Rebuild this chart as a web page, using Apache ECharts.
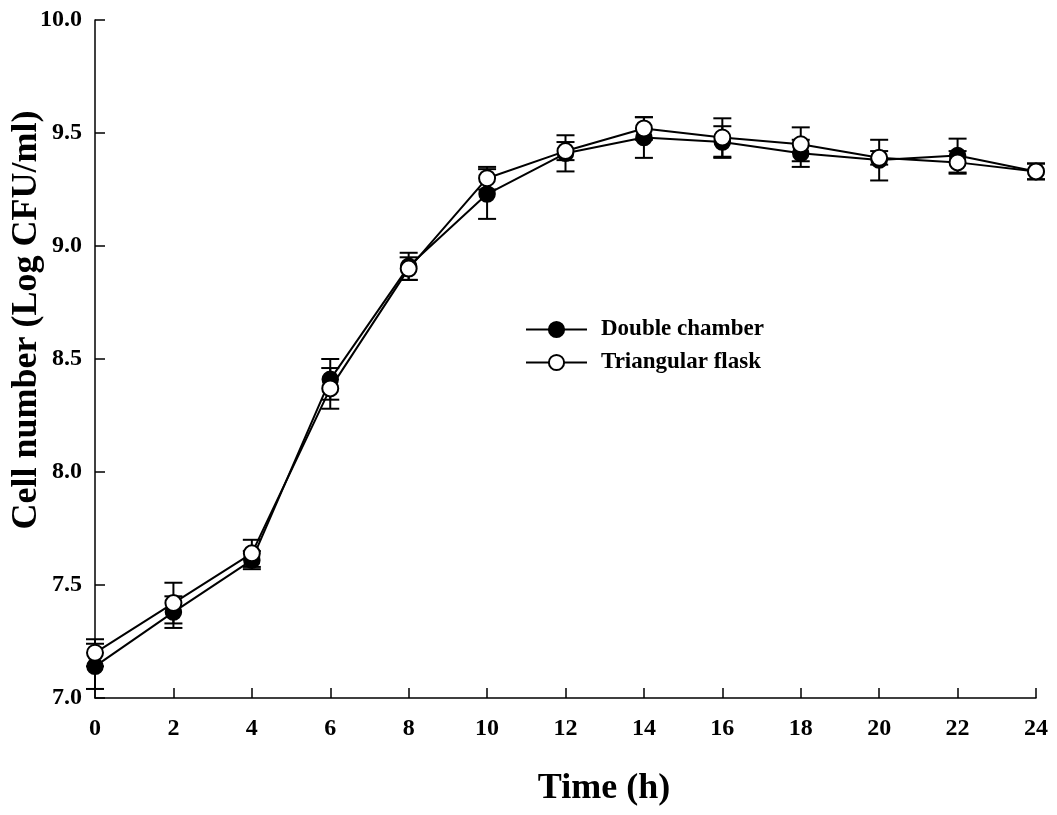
<!DOCTYPE html>
<html>
<head>
<meta charset="utf-8">
<script src="https://cdn.jsdelivr.net/npm/echarts@6/dist/echarts.min.js"></script>
<style>
html,body{margin:0;padding:0;background:#fff;}
#chart{width:1057px;height:815px;}
</style>
</head>
<body>
<div id="chart"></div>
<script>
// ---- data ----
const timeH = [0, 2, 4, 6, 8, 10, 12, 14, 16, 18, 20, 22, 24];
const doubleChamber    = [7.14, 7.38, 7.61, 8.41, 8.91, 9.23, 9.41, 9.48, 9.46, 9.41, 9.38, 9.40, 9.33];
const doubleChamberErr = [0.10, 0.07, 0.04, 0.09, 0.06, 0.11, 0.08, 0.09, 0.07, 0.06, 0.09, 0.075, 0.035];
const triangularFlask    = [7.20, 7.42, 7.64, 8.37, 8.90, 9.30, 9.42, 9.52, 9.48, 9.45, 9.39, 9.37, 9.33];
const triangularFlaskErr = [0.06, 0.09, 0.06, 0.09, 0.05, 0.05, 0.04, 0.05, 0.085, 0.075, 0.03, 0.05, 0.035];
const seriesNames = ['Double chamber', 'Triangular flask'];
const xTitle = 'Time (h)';
const yTitle = 'Cell number (Log CFU/ml)';

const FONT = "'Liberation Serif','Times New Roman',serif";

function errData(vals, errs) {
  return timeH.map((t, i) => [t, vals[i] - errs[i], vals[i] + errs[i]]);
}
function renderErr(params, api) {
  const x = api.value(0);
  const lo = api.coord([x, api.value(1)]);
  const hi = api.coord([x, api.value(2)]);
  const w = 9;
  const st = { stroke: '#000', lineWidth: 2 };
  return {
    type: 'group',
    children: [
      { type: 'line', shape: { x1: lo[0], y1: lo[1], x2: hi[0], y2: hi[1] }, style: st },
      { type: 'line', shape: { x1: lo[0] - w, y1: lo[1], x2: lo[0] + w, y2: lo[1] }, style: st },
      { type: 'line', shape: { x1: hi[0] - w, y1: hi[1], x2: hi[0] + w, y2: hi[1] }, style: st }
    ]
  };
}

const chart = echarts.init(document.getElementById('chart'), null, { renderer: 'canvas' });
chart.setOption({
  animation: false,
  backgroundColor: '#fff',
  grid: { left: 95, right: 21, top: 20, bottom: 117, containLabel: false },
  legend: {
    orient: 'vertical',
    left: 520,
    top: 313,
    itemWidth: 61,
    itemHeight: 19,
    itemGap: 10,
    data: seriesNames,
    textStyle: { fontFamily: FONT, fontWeight: 'bold', fontSize: 23, color: '#000', lineHeight: 19, padding: [0, 0, 0, 9] },
    inactiveColor: '#000'
  },
  xAxis: {
    type: 'value',
    min: 0, max: 24, interval: 2,
    axisLine: { show: true, onZero: false, lineStyle: { color: '#000', width: 1.5 } },
    axisTick: { show: true, inside: true, length: 10, lineStyle: { color: '#000', width: 1.5 } },
    axisLabel: { margin: 19, fontFamily: FONT, fontWeight: 'bold', fontSize: 24, color: '#000' },
    splitLine: { show: false }
  },
  yAxis: {
    type: 'value',
    min: 7, max: 10, interval: 0.5,
    axisLine: { show: true, onZero: false, lineStyle: { color: '#000', width: 1.5 } },
    axisTick: { show: true, inside: true, length: 10, lineStyle: { color: '#000', width: 1.5 } },
    axisLabel: { margin: 13, fontFamily: FONT, fontWeight: 'bold', fontSize: 24, color: '#000',
      formatter: v => v.toFixed(1) },
    splitLine: { show: false }
  },
  graphic: [
    { type: 'text', x: 604, y: 789, style: { text: xTitle, font: "bold 36px " + FONT, fill: '#000', align: 'center', verticalAlign: 'middle' } },
    { type: 'text', x: 27, y: 320, rotation: Math.PI / 2, style: { text: yTitle, font: "bold 36px " + FONT, fill: '#000', align: 'center', verticalAlign: 'middle' } }
  ],
  series: [
    { type: 'custom', name: 'errDouble', renderItem: renderErr, data: errData(doubleChamber, doubleChamberErr), z: 1, silent: true },
    { type: 'custom', name: 'errFlask', renderItem: renderErr, data: errData(triangularFlask, triangularFlaskErr), z: 1, silent: true },
    {
      type: 'line', name: seriesNames[0], z: 3,
      data: timeH.map((t, i) => [t, doubleChamber[i]]),
      symbol: 'circle', symbolSize: 16,
      lineStyle: { color: '#000', width: 2 },
      itemStyle: { color: '#000', borderColor: '#000', borderWidth: 1.5 }
    },
    {
      type: 'line', name: seriesNames[1], z: 4,
      data: timeH.map((t, i) => [t, triangularFlask[i]]),
      symbol: 'circle', symbolSize: 16,
      lineStyle: { color: '#000', width: 2 },
      itemStyle: { color: '#fff', borderColor: '#000', borderWidth: 2 }
    }
  ]
});
</script>
</body>
</html>
